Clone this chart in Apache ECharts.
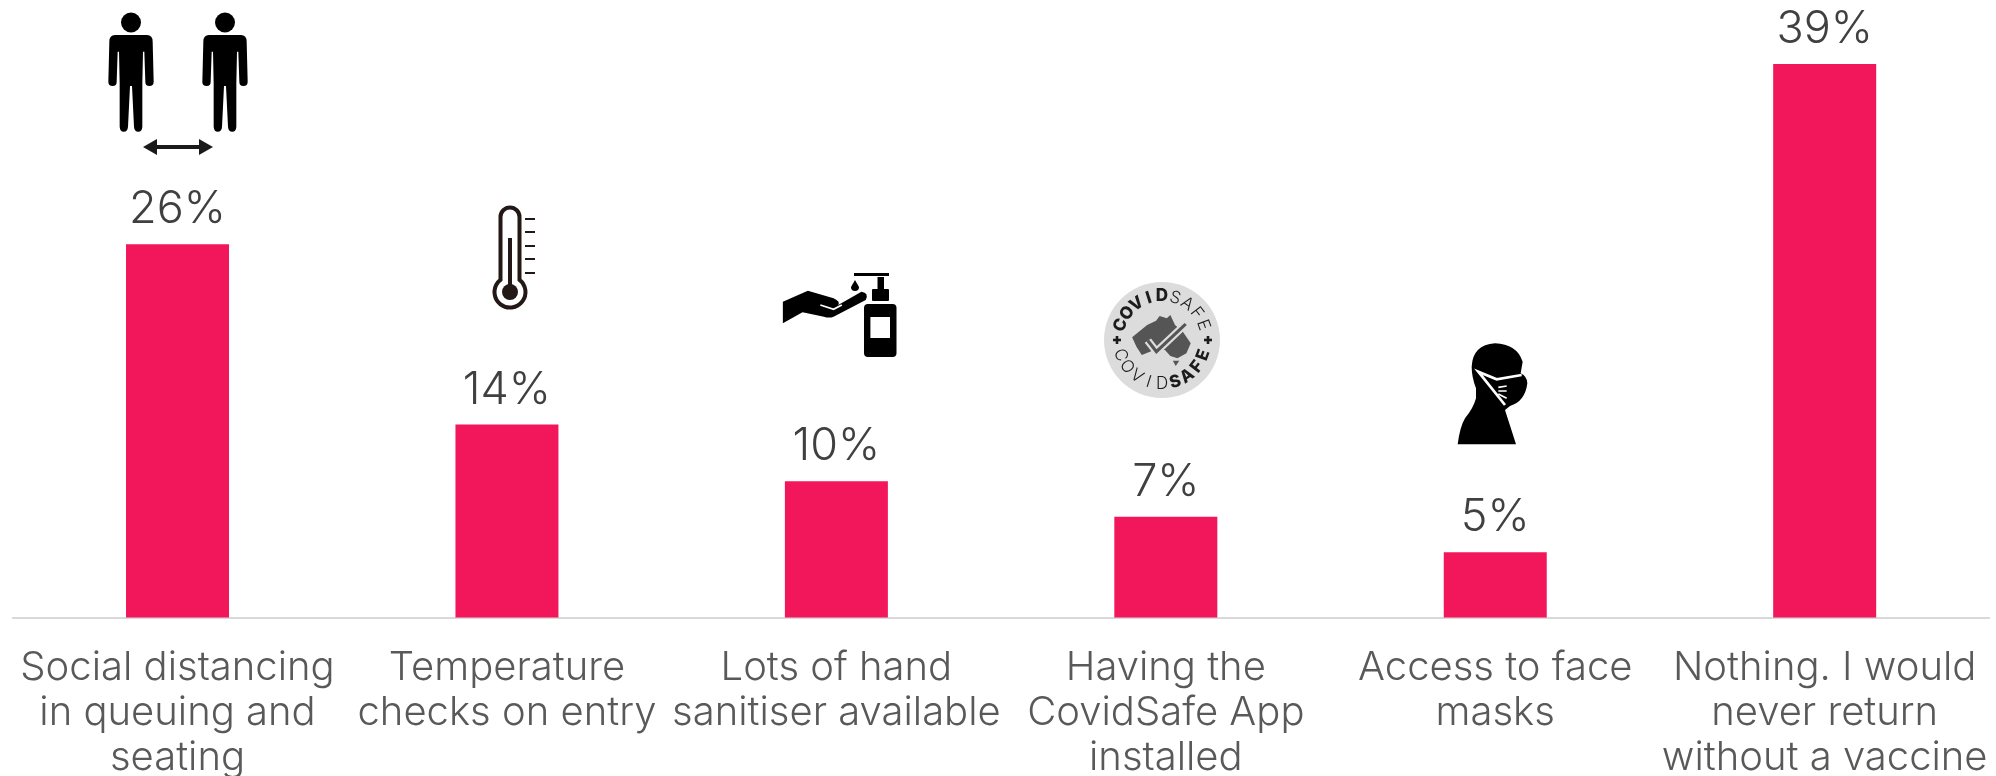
<!DOCTYPE html>
<html>
<head>
<meta charset="utf-8">
<style>
  html, body { margin: 0; padding: 0; background: #fff; }
  #chart { width: 1996px; height: 776px; }
</style>
<script src="https://cdn.jsdelivr.net/npm/echarts@6/dist/echarts.min.js"></script>
</head>
<body>
<div id="chart"></div>
<script>
const categories = [
  'Social distancing\nin queuing and\nseating',
  'Temperature\nchecks on entry',
  'Lots of hand\nsanitiser available',
  'Having the\nCovidSafe App\ninstalled',
  'Access to face\nmasks',
  'Nothing. I would\nnever return\nwithout a vaccine'
]
const shares = [26.3, 13.6, 9.6, 7.1, 4.6, 39]

const BAR_COLOR = '#f2175b'
const FONT = 'Inter, "Open Sans", sans-serif'
const INK = '#000'

// --- icons, drawn with the graphic component ---
let shapeCount = 0
// the graphic component has no plain 'path' type, so each outline gets registered as a shape
const path = (pathData, x, y, scaleX, scaleY, style) => {
  const name = `icon${shapeCount++}`
  echarts.graphic.registerShape(name, echarts.graphic.extendPath(pathData, {}))
  return { type: name, silent: true, x, y, scaleX, scaleY, style: Object.assign({ fill: INK }, style) }
}
const circle = (cx, cy, r, style) => ({
  type: 'circle', silent: true, shape: { cx, cy, r }, style: Object.assign({ fill: INK }, style)
})
const rect = (x, y, width, height, r, style) => ({
  type: 'rect', silent: true, shape: { x, y, width, height, r }, style: Object.assign({ fill: INK }, style)
})
const line = (x1, y1, x2, y2, lineWidth, stroke) => ({
  type: 'line', silent: true, shape: { x1, y1, x2, y2 }, style: { stroke, lineWidth }
})

const PERSON = 'M-48 105 L48 105 Q65 105 65 125 L68 245 Q68 258 55 258 Q43 258 43 245 L40 155 L36 155 L34 250 ' +
  'L34 380 Q33 395 22 395 Q10 395 9 380 L3 258 L-3 258 L-9 380 Q-10 395 -22 395 Q-33 395 -34 380 L-34 250 ' +
  'L-36 155 L-40 155 L-43 245 Q-43 258 -55 258 Q-68 258 -68 245 L-65 125 Q-65 105 -48 105 Z'

const person = cx => [
  circle(cx, 22.5, 10),
  path(PERSON, cx, 0, 1 / 3, 1 / 3)
]

const distancing = [
  ...person(131),
  ...person(225),
  path('M0 8 L14 0 L14 6 L56 6 L56 0 L70 8 L56 16 L56 10 L14 10 L14 16 Z', 143, 139, 1, 1, { fill: '#1a1a1a' })
]

const THERMO_INK = '#231815'
const thermometer = [
  path('M500.5 279.8 L500.5 217 A9.5 9.5 0 0 1 519.5 217 L519.5 279.8 A15.5 15.5 0 1 1 500.5 279.8 Z', 0, 0, 1, 1,
    { fill: 'none', stroke: THERMO_INK, lineWidth: 4 }),
  line(510, 238, 510, 290, 4, THERMO_INK),
  circle(510, 292, 8, { fill: THERMO_INK }),
  ...[219, 232, 246, 259, 273].map(y => line(525, y, 535, y, 2, THERMO_INK))
]

// crop coordinates of the sanitiser and badge icons: x / 2.8, y / 3 from (740, 250)
const SX = 1 / 2.8
const SY = 1 / 3
const sanitiser = [
  rect(864, 304, 32.5, 53, 4),
  rect(870.4, 317, 19.6, 21, 0, { fill: '#fff' }),
  rect(872, 289, 17, 12, 1),
  rect(877.5, 277, 6.5, 13, 0),
  rect(854, 273, 35, 3, 0),
  path('M4 0 L8 7 A4 4 0 1 1 0 7 Z', 851, 280, 1, 1),
  path('M120 155 L190 122 L262 145 Q282 155 275 165 L340 125 Q362 128 352 150 L262 200 Q250 205 235 200 L175 187 L120 220 Z',
    740, 250, SX, SY),
  path('M225 165 L262 178 L285 165', 740, 250, SX, SY, { fill: 'none', stroke: '#fff', lineWidth: 5 })
]

// letters of the badge set one by one round the circle
const BADGE_X = 1162
const BADGE_Y = 340
const ringLetters = (letters, weights, startDeg, stepDeg, radius, bottom) => letters.split('').map((ch, i) => {
  const deg = startDeg + i * stepDeg
  const rad = deg * Math.PI / 180
  return {
    type: 'text',
    silent: true,
    x: BADGE_X + radius * Math.sin(rad),
    y: BADGE_Y - radius * Math.cos(rad),
    rotation: -(bottom ? deg - 180 : deg) * Math.PI / 180,
    style: {
      text: ch,
      fill: '#1c1c1c',
      font: `${weights[i] ? 800 : 300} 17px ${FONT}`,
      textAlign: 'center',
      textVerticalAlign: 'middle'
    }
  }
})

const badge = [
  { type: 'ellipse', silent: true, shape: { cx: BADGE_X, cy: BADGE_Y, rx: 58, ry: 58 }, style: { fill: '#dcdcdc' } },
  ...ringLetters('COVIDSAFE', [1, 1, 1, 1, 1, 0, 0, 0, 0], -70, 17.5, 44, false),
  ...ringLetters('COVIDSAFE', [0, 0, 0, 0, 0, 1, 1, 1, 1], 250, -17.5, 44, true),
  rect(1113, 338.7, 8, 2.6, 0, { fill: '#1c1c1c' }),
  rect(1115.7, 336, 2.6, 8, 0, { fill: '#1c1c1c' }),
  rect(1204, 338.7, 8, 2.6, 0, { fill: '#1c1c1c' }),
  rect(1206.7, 336, 2.6, 8, 0, { fill: '#1c1c1c' }),
  path('M1098 262 L1140 225 L1165 212 L1175 198 L1195 205 L1205 195 L1218 225 L1240 245 L1262 280 L1250 310 L1225 325 L1205 318 L1190 300 L1160 300 L1125 315 L1110 290 Z',
    740, 250, SX, SY, { fill: '#555' }),
  path('M1212 332 L1230 332 L1220 348 Z', 740, 250, SX, SY, { fill: '#555' }),
  path('M1142 272 L1166 305 L1248 222', 740, 250, SX, SY, { fill: 'none', stroke: '#dcdcdc', lineWidth: 22 }),
  path('M1142 272 L1166 305 L1248 222', 740, 250, SX, SY, { fill: 'none', stroke: '#555', lineWidth: 9 })
]

const mask = [
  path('M83 343 Q90 290 105 265 Q130 235 138 205 L138 175 Q125 140 125 110 Q128 45 195 40 Q260 42 278 95 L272 130 ' +
    'Q292 140 292 160 Q285 215 240 228 L225 240 L258 343 Z', 1430, 330, 1 / 3, 1 / 3),
  path('M275 135 L200 148 L145 125 L225 225', 1430, 330, 1 / 3, 1 / 3, { fill: 'none', stroke: '#fff', lineWidth: 8 }),
  path('M205 172 L230 168 M205 183 L230 183 M205 192 L230 205', 1430, 330, 1 / 3, 1 / 3, { fill: 'none', stroke: '#fff', lineWidth: 5 })
]

const chart = echarts.init(document.getElementById('chart'))
chart.setOption({
  animation: false,
  backgroundColor: '#fff',
  grid: { left: 12.8, right: 6.6, top: 64, bottom: 158.5, outerBoundsMode: 'none' },
  xAxis: {
    type: 'category',
    data: categories,
    axisTick: { show: false },
    axisLine: { lineStyle: { color: '#d9d9d9', width: 2 } },
    axisLabel: {
      interval: 0,
      margin: 28,
      color: '#595959',
      fontFamily: FONT,
      fontWeight: 300,
      fontSize: 40,
      lineHeight: 45
    }
  },
  yAxis: {
    type: 'value',
    min: 0,
    max: 39,
    show: false,
    splitLine: { show: false }
  },
  series: [{
    type: 'bar',
    data: shares,
    barWidth: 103,
    itemStyle: { color: BAR_COLOR },
    label: {
      show: true,
      position: 'top',
      distance: 12,
      color: '#404040',
      fontFamily: FONT,
      fontWeight: 300,
      fontSize: 45,
      formatter: p => `${Math.round(p.value)}%`
    }
  }],
  graphic: { elements: [...distancing, ...thermometer, ...sanitiser, ...badge, ...mask] }
})
</script>
</body>
</html>
